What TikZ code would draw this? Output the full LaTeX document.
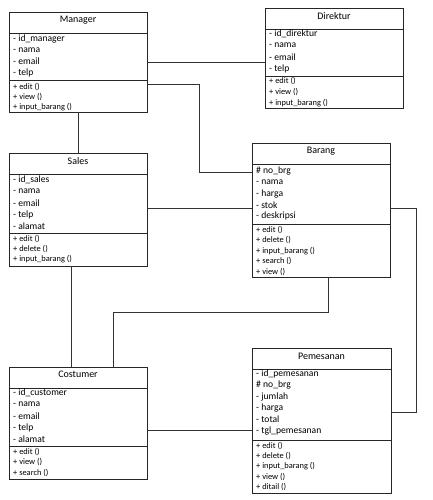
\documentclass[tikz,border=0pt]{standalone}
\usepackage{fontspec}
\setmainfont{Carlito}
\begin{document}
\begin{tikzpicture}[x=1pt,y=-1pt,
  classbox/.style={draw=black!85, line width=0.9pt, fill=white, inner sep=0pt, outer sep=0pt, anchor=north west},
  divider/.style={draw=black!85, line width=0.9pt},
  title/.style={inner sep=0pt, font=\fontsize{10}{12}\selectfont, text=black},
  attr/.style={anchor=west, inner sep=0pt, font=\fontsize{9.6}{11}\selectfont, text=black},
  meth/.style={anchor=west, inner sep=0pt, font=\fontsize{8.4}{10}\selectfont, text=black},
  conn/.style={draw=black!80, line width=0.8pt}]
\useasboundingbox[fill=white] (0,0) rectangle (433,500);

% ---------- Manager ----------
\node[classbox, minimum width=138pt, minimum height=100pt] (manager) at (9,12) {};
\draw[divider] (manager.west |- 0,33) -- (manager.east |- 0,33);
\draw[divider] (manager.west |- 0,80) -- (manager.east |- 0,80);
\node[title] (managerT) at (manager.north |- 0,20) {Manager};
\foreach \t [count=\i] in {- id\_manager, - nama, - email, - telp}
  \node[attr] (managerA\i) at (13,{39+11.3*(\i-1)}) {\t};
\foreach \t [count=\i] in {+ edit (), + view (), + input\_barang ()}
  \node[meth] (managerM\i) at (13,{87+10*(\i-1)}) {\t};

% ---------- Direktur ----------
\node[classbox, minimum width=138pt, minimum height=100pt] (direktur) at (265,8) {};
\draw[divider] (direktur.west |- 0,29) -- (direktur.east |- 0,29);
\draw[divider] (direktur.west |- 0,76) -- (direktur.east |- 0,76);
\node[title] (direkturT) at (direktur.north |- 0,16) {Direktur};
\foreach \t [count=\i] in {- id\_direktur, - nama, - email, - telp}
  \node[attr] (direkturA\i) at (269,{34+11.6*(\i-1)}) {\t};
\foreach \t [count=\i] in {+ edit (), + view (), + input\_barang ()}
  \node[meth] (direkturM\i) at (269,{81+11*(\i-1)}) {\t};

% ---------- Sales ----------
\node[classbox, minimum width=138pt, minimum height=113pt] (sales) at (9,153) {};
\draw[divider] (sales.west |- 0,174) -- (sales.east |- 0,174);
\draw[divider] (sales.west |- 0,233) -- (sales.east |- 0,233);
\node[title] (salesT) at (sales.north |- 0,161) {Sales};
\foreach \t [count=\i] in {- id\_sales, - nama, - email, - telp, - alamat}
  \node[attr] (salesA\i) at (13,{180+11.5*(\i-1)}) {\t};
\foreach \t [count=\i] in {+ edit (), + delete (), + input\_barang ()}
  \node[meth] (salesM\i) at (13,{239+10*(\i-1)}) {\t};

% ---------- Barang ----------
\node[classbox, minimum width=138pt, minimum height=134pt] (barang) at (252,143) {};
\draw[divider] (barang.west |- 0,164) -- (barang.east |- 0,164);
\draw[divider] (barang.west |- 0,224) -- (barang.east |- 0,224);
\node[title] (barangT) at (barang.north |- 0,151) {Barang};
\foreach \t [count=\i] in {\# no\_brg, - nama, - harga, - stok, - deskripsi}
  \node[attr] (barangA\i) at (256,{171+11.25*(\i-1)}) {\t};
\foreach \t [count=\i] in {+ edit (), + delete (), + input\_barang (), + search (), + view ()}
  \node[meth] (barangM\i) at (256,{230+10.5*(\i-1)}) {\t};

% ---------- Costumer ----------
\node[classbox, minimum width=138pt, minimum height=112pt] (costumer) at (9,367) {};
\draw[divider] (costumer.west |- 0,388) -- (costumer.east |- 0,388);
\draw[divider] (costumer.west |- 0,446) -- (costumer.east |- 0,446);
\node[title] (costumerT) at (costumer.north |- 0,374) {Costumer};
\foreach \t [count=\i] in {- id\_customer, - nama, - email, - telp, - alamat}
  \node[attr] (costumerA\i) at (13,{393+11.5*(\i-1)}) {\t};
\foreach \t [count=\i] in {+ edit (), + view (), + search ()}
  \node[meth] (costumerM\i) at (13,{452+10.5*(\i-1)}) {\t};

% ---------- Pemesanan ----------
\node[classbox, minimum width=139pt, minimum height=145pt] (pemesanan) at (252,348) {};
\draw[divider] (pemesanan.west |- 0,369) -- (pemesanan.east |- 0,369);
\draw[divider] (pemesanan.west |- 0,440) -- (pemesanan.east |- 0,440);
\node[title] (pemesananT) at (pemesanan.north |- 0,356) {Pemesanan};
\foreach \t [count=\i] in {- id\_pemesanan, \# no\_brg, - jumlah, - harga, - total, - tgl\_pemesanan}
  \node[attr] (pemesananA\i) at (256,{374+11.4*(\i-1)}) {\t};
\foreach \t [count=\i] in {+ edit (), + delete (), + input\_barang (), + view (), + ditail ()}
  \node[meth] (pemesananM\i) at (256,{446+10.25*(\i-1)}) {\t};

% ---------- Connectors ----------
\draw[conn] (manager.east) -- (manager.east -| direktur.west);
\draw[conn] (manager.east |- 0,84) -| (199,172) -- (barang.west |- 0,172);
\draw[conn] (manager.south) -- (manager.south |- sales.north);
\draw[conn] (sales.east |- 0,208) -- (barang.west |- 0,208);
\draw[conn] (barang.east |- 0,208) -| (416,412) -- (pemesanan.east |- 0,412);
\draw[conn] (barang.south -| 328,0) |- (113,312) -- (costumer.north -| 113,0);
\draw[conn] (sales.south -| 71,0) -- (costumer.north -| 71,0);
\draw[conn] (costumer.east |- 0,430) -- (pemesanan.west |- 0,430);
\end{tikzpicture}
\end{document}
